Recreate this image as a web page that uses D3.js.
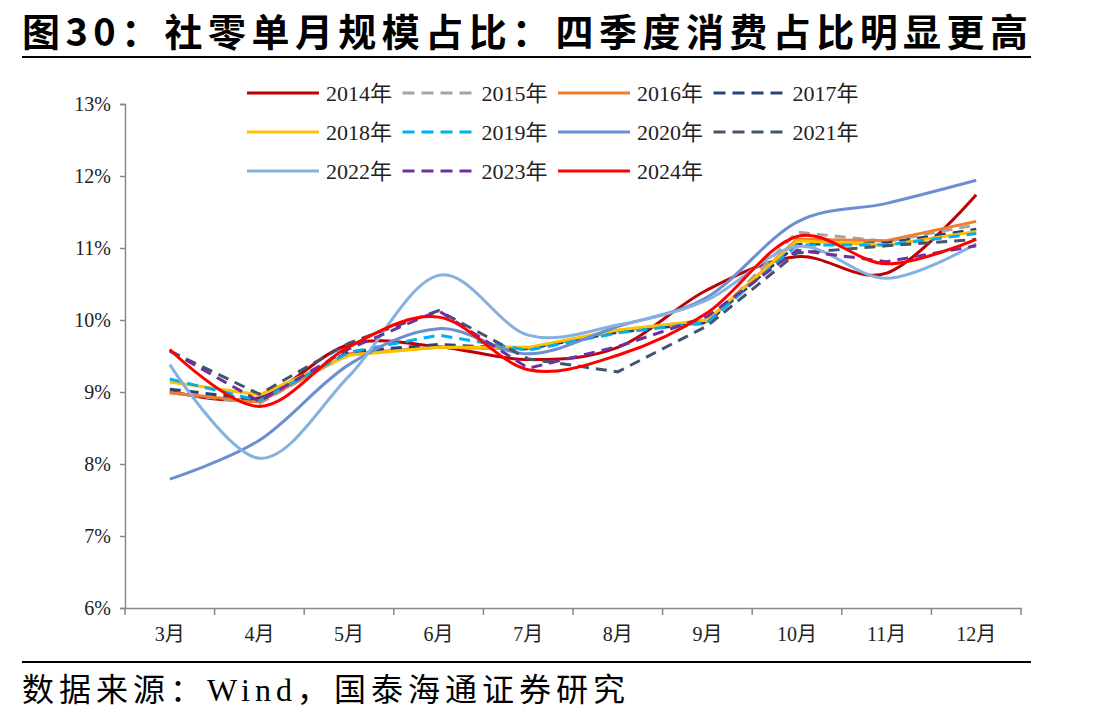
<!DOCTYPE html>
<html>
<head>
<meta charset="utf-8">
<script src="https://cdn.jsdelivr.net/npm/d3@7"></script>
<style>
  body { margin: 0; background: #fff; }
  svg text { font-family: "Liberation Serif", "Noto Sans CJK SC", serif; }
</style>
</head>
<body>
<script>
// months on the x axis
var months = ["3月", "4月", "5月", "6月", "7月", "8月", "9月", "10月", "11月", "12月"];

// y tick values (in %)
var yTicks = [6, 7, 8, 9, 10, 11, 12, 13];

// series names, in legend order
var years = ["2014年", "2015年", "2016年", "2017年", "2018年", "2019年",
             "2020年", "2021年", "2022年", "2023年", "2024年"];

// monthly share of annual retail sales (%)
var v2014 = [9.01, 8.92, 9.66, 9.63, 9.45, 9.62, 10.42, 10.88, 10.65, 11.74];
var v2015 = [8.99, 8.84, 9.55, 9.62, 9.60, 9.85, 9.95, 11.22, 11.09, 11.32];
var v2016 = [8.99, 8.86, 9.53, 9.62, 9.60, 9.85, 9.98, 11.12, 11.10, 11.37];
var v2017 = [9.04, 8.89, 9.56, 9.66, 9.60, 9.83, 9.97, 11.05, 11.07, 11.26];
var v2018 = [9.14, 8.96, 9.51, 9.62, 9.62, 9.86, 10.00, 11.10, 11.04, 11.23];
var v2019 = [9.18, 8.88, 9.55, 9.79, 9.58, 9.82, 9.97, 11.04, 11.04, 11.20];
var v2020 = [7.79, 8.33, 9.38, 9.88, 9.53, 9.91, 10.32, 11.36, 11.62, 11.94];
var v2021 = [9.57, 8.97, 9.68, 10.13, 9.46, 9.28, 9.92, 10.93, 11.03, 11.12];
var v2022 = [9.38, 8.08, 9.22, 10.62, 9.79, 9.93, 10.28, 11.02, 10.58, 11.06];
var v2023 = [9.57, 8.87, 9.60, 10.13, 9.33, 9.63, 10.05, 10.97, 10.81, 11.03];
var v2024 = [9.59, 8.80, 9.63, 10.04, 9.31, 9.51, 10.10, 11.16, 10.78, 11.12];

var values = [v2014, v2015, v2016, v2017, v2018, v2019, v2020, v2021, v2022, v2023, v2024];

// styling per series
var colors = ["#C00000", "#A5A5A5", "#ED7D31", "#264478", "#FFC000", "#00B0F0",
              "#6D8FD1", "#44546A", "#85B1E0", "#7030A0", "#FF0000"];
var dashed = [false, true, false, true, false, true, false, true, false, true, false];
var smooth = [true, false, false, false, false, false, true, false, true, false, true];

var width = 1108, height = 721;

var svg = d3.select("body").append("svg")
    .attr("width", width)
    .attr("height", height);

// title
svg.append("text")
    .attr("x", 22)
    .attr("y", 46)
    .attr("textLength", 1006)
    .attr("lengthAdjust", "spacing")
    .style("font-family", "'Noto Sans CJK SC', sans-serif")
    .style("font-weight", "bold")
    .style("font-size", "38px")
    .text("图30：社零单月规模占比：四季度消费占比明显更高");

svg.append("line")
    .attr("x1", 22).attr("x2", 1031)
    .attr("y1", 57).attr("y2", 57)
    .style("stroke", "#000")
    .style("stroke-width", 2);

// scales
var x = d3.scaleBand()
    .domain(months)
    .range([125, 1021]);

var y = d3.scaleLinear()
    .domain([6, 13])
    .range([608, 104]);

// y axis
var yAxis = svg.append("g")
    .attr("transform", "translate(125,0)")
    .call(d3.axisLeft(y)
        .tickValues(yTicks)
        .tickSize(5)
        .tickPadding(9)
        .tickFormat(function(d) { return d + "%"; }));

yAxis.select(".domain").style("stroke", "#898989").style("stroke-width", 1.5);
yAxis.selectAll(".tick line").style("stroke", "#898989").style("stroke-width", 1.5);
yAxis.selectAll(".tick text")
    .style("font-size", "20px")
    .style("fill", "#222");

// x axis: labels at band centres, ticks at band edges
var xAxis = svg.append("g")
    .attr("transform", "translate(0,608)")
    .call(d3.axisBottom(x).tickSize(0).tickPadding(19));

xAxis.select(".domain").style("stroke", "#898989").style("stroke-width", 1.5);
xAxis.selectAll(".tick text")
    .style("font-size", "20px")
    .style("fill", "#222");

var edges = months.map(function(m) { return x(m); }).concat([x.range()[1]]);
xAxis.selectAll(".edge")
    .data(edges)
    .enter().append("line")
    .attr("class", "edge")
    .attr("x1", function(d) { return d; })
    .attr("x2", function(d) { return d; })
    .attr("y1", 0).attr("y2", 7)
    .style("stroke", "#898989")
    .style("stroke-width", 1.5);

// lines
var half = x.bandwidth() / 2;

var series = years.map(function(name, i) {
    return { name: name, vals: values[i], color: colors[i], dashed: dashed[i], smooth: smooth[i] };
});

svg.append("g")
    .selectAll("path")
    .data(series)
    .enter().append("path")
    .attr("d", function(s) {
        var line = d3.line()
            .x(function(d, j) { return x(months[j]) + half; })
            .y(function(d) { return y(d); })
            .curve(s.smooth ? d3.curveCatmullRom.alpha(0) : d3.curveLinear);
        return line(s.vals);
    })
    .style("fill", "none")
    .style("stroke", function(s) { return s.color; })
    .style("stroke-width", 3)
    .style("stroke-dasharray", function(s) { return s.dashed ? "11,7" : null; });

// legend, 4 per row
var legend = svg.append("g")
    .selectAll("g")
    .data(series)
    .enter().append("g")
    .attr("transform", function(s, i) {
        return "translate(" + (247 + (i % 4) * 155.5) + "," + (93 + Math.floor(i / 4) * 39) + ")";
    });

legend.append("line")
    .attr("x1", 0).attr("x2", 72)
    .attr("y1", 0).attr("y2", 0)
    .style("stroke", function(s) { return s.color; })
    .style("stroke-width", 3)
    .style("stroke-dasharray", function(s) { return s.dashed ? "12,7" : null; });

legend.append("text")
    .attr("x", 79)
    .attr("y", 8)
    .style("font-size", "22px")
    .style("fill", "#222")
    .text(function(s) { return s.name; });

// source
svg.append("line")
    .attr("x1", 22).attr("x2", 1031)
    .attr("y1", 662).attr("y2", 662)
    .style("stroke", "#000")
    .style("stroke-width", 2);

svg.append("text")
    .attr("x", 22)
    .attr("y", 701)
    .attr("textLength", 603)
    .attr("lengthAdjust", "spacing")
    .style("font-size", "32px")
    .style("fill", "#000")
    .text("数据来源：Wind，国泰海通证券研究");
</script>
</body>
</html>
